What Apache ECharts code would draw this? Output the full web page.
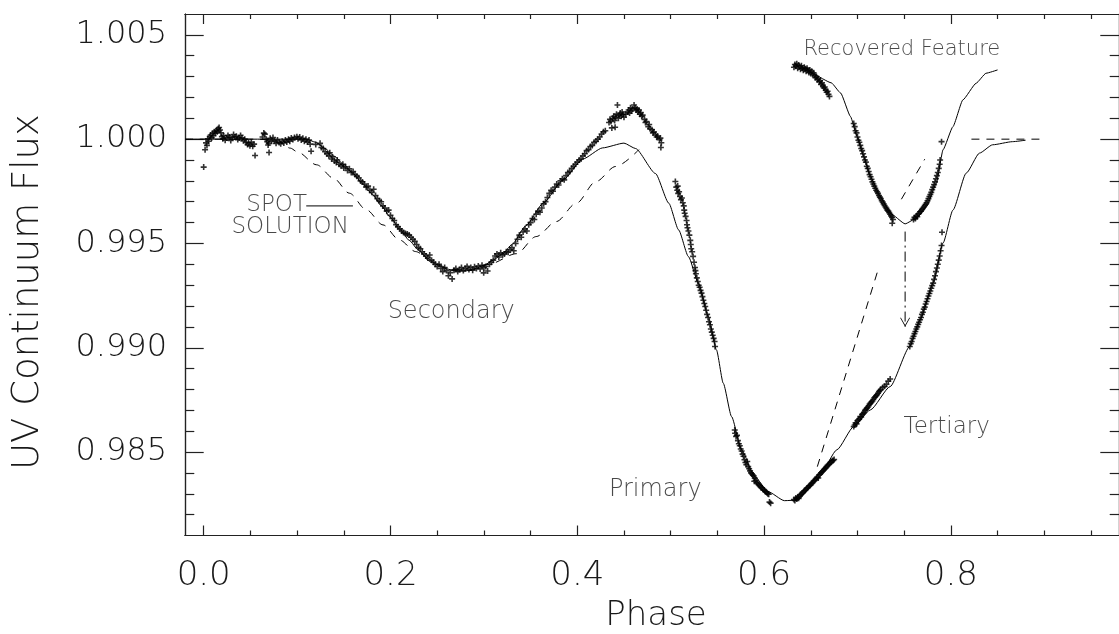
<!DOCTYPE html>
<html>
<head>
<meta charset="utf-8">
<script src="https://cdn.jsdelivr.net/npm/echarts@6/dist/echarts.min.js"></script>
<style>
html,body{margin:0;padding:0;background:#fff;}
#chart{width:1119px;height:634px;}
</style>
</head>
<body>
<div id="chart"></div>
<script>
// ---- axis ranges and ticks ----
const phaseRange = [-0.02, 0.98];
const fluxRange = [0.981, 1.006];
const phaseMajorTicks = [0.0, 0.2, 0.4, 0.6, 0.8];
const phaseMinorTicks = [0.05, 0.10, 0.15, 0.25, 0.30, 0.35, 0.45, 0.50, 0.55, 0.65, 0.70, 0.75, 0.85, 0.90, 0.95];
const fluxMajorTicks = [0.985, 0.990, 0.995, 1.000, 1.005];
const fluxMinorTicks = [0.982, 0.983, 0.984, 0.986, 0.987, 0.988, 0.989, 0.991, 0.992, 0.993, 0.994,
  0.996, 0.997, 0.998, 0.999, 1.001, 1.002, 1.003, 1.004];

// ---- observed UV continuum flux [phase, flux] ----
const obsEarly = [
  [0.0000,0.99866],[0.0015,0.99949],[0.0025,0.99982],[0.0035,0.99970],[0.0045,1.00002],[0.0055,0.99990],
  [0.0065,1.00012],[0.0075,1.00020],[0.0085,1.00006],[0.0095,1.00028],[0.0105,1.00016],[0.0115,1.00036],
  [0.0125,1.00028],[0.0135,1.00042],[0.0145,1.00036],[0.0155,1.00050],[0.0165,1.00056],[0.0175,1.00044],
  [0.0185,1.00030],[0.0195,1.00012],[0.0205,1.00002],[0.0215,1.00016],[0.0230,0.99995],[0.0245,1.00006],
  [0.0260,1.00018],[0.0275,1.00010],[0.0290,0.99994],[0.0305,1.00008],[0.0320,1.00022],[0.0335,1.00010],
  [0.0350,1.00014],[0.0365,0.99998],[0.0380,1.00006],[0.0395,1.00018],[0.0410,1.00006],[0.0425,0.99992],
  [0.0440,1.00000],[0.0455,0.99984],[0.0470,0.99974],[0.0480,0.99982],[0.0495,0.99968],[0.0510,0.99986],
  [0.0525,0.99966],[0.0540,0.99976],[0.0550,0.99922],
  [0.0630,1.00010],[0.0644,1.00029],[0.0655,1.00024],[0.0670,1.00000],[0.0680,0.99988],[0.0690,0.99972],
  [0.0697,0.99981],[0.0700,0.99936],[0.0712,1.00004],[0.0728,0.99990],[0.0742,1.00008],[0.0758,0.99992],
  [0.0775,0.99980],[0.0790,0.99996],[0.0808,0.99984],[0.0825,0.99978],[0.0840,0.99990],[0.0858,0.99982],
  [0.0875,0.99996],[0.0890,0.99986],[0.0908,1.00000],[0.0922,0.99990],[0.0938,1.00006],[0.0955,0.99998],
  [0.0972,1.00008],[0.0998,1.00012],[0.1010,1.00002],[0.1028,1.00010],[0.1045,0.99996],[0.1062,1.00004],
  [0.1078,0.99990],[0.1095,1.00000],[0.1110,0.99986],[0.1128,0.99996],[0.1140,0.99976],[0.1150,0.99942]
];
const obsSecondary = [
  [0.120,0.99975],[0.1246,0.99980],[0.126,0.99960],[0.128,0.99955],[0.130,0.99940],[0.132,0.99930],
  [0.134,0.99920],[0.135,0.99935],[0.137,0.99905],[0.138,0.99915],[0.140,0.99895],[0.142,0.99888],
  [0.143,0.99900],[0.145,0.99880],[0.147,0.99872],[0.149,0.99880],[0.150,0.99862],[0.152,0.99868],
  [0.154,0.99850],[0.156,0.99858],[0.158,0.99840],[0.160,0.99845],[0.162,0.99830],[0.164,0.99822],
  [0.166,0.99815],[0.168,0.99800],[0.170,0.99795],[0.172,0.99785],[0.174,0.99770],[0.176,0.99775],
  [0.178,0.99755],[0.180,0.99745],[0.182,0.99760],[0.184,0.99730],[0.186,0.99715],[0.188,0.99705],
  [0.190,0.99700],[0.192,0.99680],[0.194,0.99670],[0.196,0.99655],[0.198,0.99660],[0.200,0.99635],
  [0.202,0.99620],[0.204,0.99610],[0.206,0.99590],[0.208,0.99580],[0.210,0.99570],[0.212,0.99560],
  [0.214,0.99552],[0.216,0.99548],[0.218,0.99545],[0.220,0.99540],[0.222,0.99530],[0.224,0.99520],
  [0.226,0.99510],[0.228,0.99495],[0.230,0.99480],[0.232,0.99475],[0.234,0.99460],[0.236,0.99450],
  [0.238,0.99440],[0.240,0.99430],[0.242,0.99445],[0.244,0.99420],[0.246,0.99410],[0.248,0.99400],
  [0.250,0.99390],[0.252,0.99400],[0.254,0.99380],[0.256,0.99365],[0.258,0.99385],[0.260,0.99370],
  [0.262,0.99345],[0.264,0.99360],[0.266,0.99330],[0.268,0.99372],[0.270,0.99380],[0.272,0.99365],
  [0.274,0.99375],[0.276,0.99385],[0.278,0.99370],[0.280,0.99380],[0.282,0.99390],[0.284,0.99375],
  [0.286,0.99385],[0.288,0.99372],[0.290,0.99388],[0.292,0.99380],[0.294,0.99392],[0.296,0.99378],
  [0.298,0.99395],[0.2998,0.99359],[0.300,0.99385],[0.302,0.99390],[0.304,0.99368],[0.306,0.99400],
  [0.308,0.99410],[0.310,0.99420],[0.312,0.99440],[0.314,0.99450],[0.316,0.99435],[0.318,0.99455],
  [0.320,0.99445],[0.322,0.99450],[0.324,0.99460],[0.326,0.99458],[0.328,0.99470],[0.330,0.99480],
  [0.332,0.99465],[0.334,0.99500],[0.336,0.99520],[0.338,0.99540],[0.340,0.99530],[0.342,0.99555],
  [0.344,0.99570],[0.346,0.99560],[0.348,0.99590],[0.350,0.99600],[0.352,0.99620],[0.354,0.99615],
  [0.356,0.99640],[0.358,0.99655],[0.360,0.99650],[0.362,0.99670],[0.364,0.99690],[0.366,0.99700],
  [0.368,0.99720],[0.370,0.99740],[0.372,0.99755],[0.374,0.99750],[0.376,0.99770],[0.378,0.99785],
  [0.380,0.99780],[0.382,0.99800],[0.384,0.99810],[0.386,0.99805],[0.388,0.99825],[0.390,0.99840],
  [0.392,0.99845],[0.394,0.99860],[0.396,0.99870],[0.398,0.99880],[0.400,0.99890],[0.402,0.99900],
  [0.404,0.99905],[0.406,0.99920],[0.408,0.99930],[0.410,0.99945],[0.412,0.99950],[0.414,0.99965],
  [0.416,0.99970],[0.418,0.99985],[0.420,0.99990],[0.422,1.00000],[0.424,1.00010],[0.426,1.00025],
  [0.428,1.00035],[0.430,1.00040],
  [0.434,1.00080],[0.435,1.00095],[0.436,1.00085],[0.437,1.00054],[0.438,1.00100],[0.439,1.00110],
  [0.440,1.00090],[0.441,1.00105],[0.4405,1.00057],[0.442,1.00120],[0.443,1.00164],[0.444,1.00100],
  [0.445,1.00115],[0.446,1.00125],[0.447,1.00110],[0.448,1.00130],[0.449,1.00118],[0.450,1.00105],
  [0.452,1.00120],[0.454,1.00130],[0.455,1.00140],[0.456,1.00125],[0.457,1.00150],[0.458,1.00135],
  [0.459,1.00145],[0.4608,1.00164],[0.462,1.00150],[0.463,1.00140],[0.464,1.00145],[0.465,1.00130],
  [0.466,1.00140],[0.467,1.00120],[0.468,1.00128],[0.469,1.00110],[0.470,1.00115],[0.472,1.00095],
  [0.473,1.00080],[0.474,1.00085],[0.476,1.00060],[0.477,1.00070],[0.478,1.00050],[0.480,1.00045],
  [0.481,1.00030],[0.482,1.00035],[0.484,1.00020],[0.485,1.00010],[0.486,1.00015],[0.488,0.99998],
  [0.489,1.00005],[0.490,0.99983],[0.4895,0.99960]
];
const obsIngress = [
  [0.505,0.99797],[0.506,0.99770],[0.507,0.99755],[0.5075,0.99775],[0.508,0.99740],[0.509,0.99748],
  [0.510,0.99725],[0.511,0.99710],[0.512,0.99718],[0.513,0.99695],[0.514,0.99680],[0.5145,0.99660],
  [0.515,0.99645],[0.516,0.99630],[0.517,0.99610],[0.5175,0.99590],[0.518,0.99575],[0.519,0.99560],
  [0.520,0.99540],[0.521,0.99515],[0.5215,0.99495],[0.522,0.99475],[0.523,0.99460],[0.524,0.99438],
  [0.525,0.99410],[0.526,0.99385],[0.5265,0.99370],[0.527,0.99355],[0.528,0.99335],[0.529,0.99318],
  [0.530,0.99300],[0.531,0.99290],[0.532,0.99275],[0.533,0.99262],[0.534,0.99245],[0.535,0.99228],
  [0.536,0.99212],[0.537,0.99198],[0.538,0.99180],[0.539,0.99160],[0.540,0.99145],[0.541,0.99125],
  [0.542,0.99110],[0.543,0.99090],[0.544,0.99075],[0.545,0.99060],[0.546,0.99045],[0.547,0.99030],
  [0.5475,0.99006]
];
const obsPrimaryMin = [
  [0.5686,0.98606],[0.569,0.98590],[0.570,0.98575],[0.571,0.98580],[0.572,0.98555],[0.573,0.98540],
  [0.574,0.98530],[0.575,0.98515],[0.576,0.98505],[0.577,0.98490],[0.578,0.98480],[0.579,0.98463],
  [0.580,0.98450],[0.581,0.98440],[0.582,0.98455],[0.583,0.98430],[0.584,0.98420],[0.585,0.98410],
  [0.586,0.98400],[0.587,0.98395],[0.588,0.98390],[0.589,0.98385],[0.5895,0.98360],[0.590,0.98375],
  [0.591,0.98365],[0.592,0.98355],[0.593,0.98350],[0.594,0.98345],[0.595,0.98340],[0.596,0.98335],
  [0.597,0.98330],[0.598,0.98328],[0.599,0.98320],[0.600,0.98318],[0.601,0.98312],[0.602,0.98310],
  [0.603,0.98305],[0.604,0.98300],[0.605,0.98298],[0.6058,0.98260],[0.607,0.98255]
];
const obsEgress = [
  [0.632,0.98272],[0.633,0.98268],[0.634,0.98280],[0.635,0.98275],[0.636,0.98284],[0.637,0.98278],
  [0.638,0.98290],[0.639,0.98296],[0.640,0.98298],[0.641,0.98304],[0.642,0.98308],[0.643,0.98314],
  [0.644,0.98316],[0.645,0.98322],[0.646,0.98328],[0.647,0.98330],[0.648,0.98336],[0.649,0.98340],
  [0.650,0.98344],[0.651,0.98350],[0.652,0.98354],[0.653,0.98360],[0.654,0.98364],[0.655,0.98368],
  [0.656,0.98374],[0.657,0.98380],[0.658,0.98376],[0.659,0.98390],[0.660,0.98394],[0.661,0.98400],
  [0.662,0.98405],[0.663,0.98410],[0.664,0.98416],[0.665,0.98420],[0.666,0.98424],[0.667,0.98430],
  [0.668,0.98436],[0.669,0.98440],[0.670,0.98444],[0.671,0.98450],[0.672,0.98452],[0.673,0.98458],
  [0.674,0.98460],[0.675,0.98464]
];
const obsTertiary = [
  [0.696,0.98622],[0.697,0.98630],[0.698,0.98640],[0.699,0.98635],[0.700,0.98650],[0.701,0.98655],
  [0.702,0.98660],[0.703,0.98670],[0.704,0.98668],[0.705,0.98680],[0.706,0.98685],[0.707,0.98690],
  [0.708,0.98700],[0.709,0.98705],[0.710,0.98710],[0.711,0.98715],[0.712,0.98722],[0.713,0.98730],
  [0.714,0.98735],[0.715,0.98740],[0.716,0.98745],[0.717,0.98752],[0.718,0.98760],[0.719,0.98765],
  [0.720,0.98770],[0.721,0.98775],[0.722,0.98782],[0.723,0.98790],[0.724,0.98795],[0.725,0.98800],
  [0.727,0.98810],[0.729,0.98815],[0.731,0.98825],[0.733,0.98840],[0.735,0.98850]
];
const obsTertiaryLate = [
  [0.756,0.99006],[0.757,0.99020],[0.758,0.99030],[0.759,0.99045],[0.760,0.99055],[0.761,0.99068],
  [0.762,0.99078],[0.763,0.99090],[0.764,0.99100],[0.765,0.99112],[0.766,0.99122],[0.767,0.99134],
  [0.768,0.99145],[0.769,0.99160],[0.770,0.99170],[0.771,0.99185],[0.772,0.99195],[0.773,0.99210],
  [0.774,0.99222],[0.775,0.99235],[0.776,0.99248],[0.777,0.99260],[0.778,0.99272],[0.779,0.99285],
  [0.780,0.99298],[0.781,0.99310],[0.782,0.99328],[0.783,0.99345],[0.784,0.99365],[0.785,0.99382],
  [0.786,0.99400],[0.787,0.99420],[0.788,0.99440],[0.789,0.99465],[0.790,0.99490],[0.7905,0.99554]
];
// recovered feature (residual, shifted upward)
const obsRecoveredStart = [
  [0.632,1.00345],[0.633,1.00358],[0.634,1.00350],[0.635,1.00362],[0.636,1.00340],[0.637,1.00355],
  [0.638,1.00348],[0.639,1.00335],[0.640,1.00352],[0.641,1.00340],[0.642,1.00330],[0.643,1.00345],
  [0.644,1.00338],[0.645,1.00325],[0.646,1.00340],[0.647,1.00330],[0.648,1.00320],[0.649,1.00332],
  [0.650,1.00315],[0.651,1.00325],[0.652,1.00310],[0.653,1.00318],[0.654,1.00305],[0.655,1.00295],
  [0.656,1.00300],[0.657,1.00285],[0.658,1.00290],[0.659,1.00275],[0.660,1.00280],[0.661,1.00262],
  [0.662,1.00270],[0.663,1.00255],[0.664,1.00245],[0.665,1.00250],[0.666,1.00235],[0.667,1.00225],
  [0.668,1.00230],[0.669,1.00215],[0.670,1.00205]
];
const obsRecoveredDip = [
  [0.696,1.00075],[0.697,1.00060],[0.698,1.00040],[0.699,1.00030],[0.700,1.00010],[0.701,0.99995],
  [0.702,0.99985],[0.703,0.99970],[0.704,0.99955],[0.705,0.99945],[0.706,0.99930],[0.707,0.99915],
  [0.708,0.99900],[0.709,0.99890],[0.710,0.99870],[0.711,0.99860],[0.712,0.99845],[0.713,0.99830],
  [0.714,0.99820],[0.715,0.99808],[0.716,0.99795],[0.717,0.99785],[0.718,0.99775],[0.719,0.99765],
  [0.720,0.99755],[0.721,0.99748],[0.722,0.99740],[0.723,0.99730],[0.724,0.99722],[0.725,0.99715],
  [0.726,0.99705],[0.727,0.99698],[0.728,0.99690],[0.729,0.99682],[0.730,0.99675],[0.731,0.99668],
  [0.732,0.99660],[0.733,0.99655],[0.734,0.99648],[0.735,0.99640],[0.736,0.99632],[0.737,0.99625],
  [0.738,0.99615],[0.7372,0.99597]
];
const obsRecoveredRise = [
  [0.760,0.99615],[0.761,0.99625],[0.762,0.99620],[0.763,0.99632],[0.764,0.99628],[0.765,0.99640],
  [0.766,0.99645],[0.767,0.99652],[0.768,0.99655],[0.769,0.99662],[0.770,0.99668],[0.771,0.99675],
  [0.772,0.99682],[0.773,0.99688],[0.774,0.99695],[0.775,0.99705],[0.776,0.99715],[0.777,0.99725],
  [0.778,0.99735],[0.779,0.99745],[0.780,0.99758],[0.781,0.99770],[0.782,0.99782],[0.783,0.99795],
  [0.784,0.99810],[0.785,0.99825],[0.786,0.99840],[0.787,0.99860],[0.788,0.99880],[0.7885,0.99900],
  [0.790,0.99988]
];

// ---- model light curves [phase, flux] ----
const spotModel = [
  [-0.02,1.00000],[0.110,1.00000],[0.120,0.99985],[0.130,0.99955],[0.140,0.99918],[0.150,0.99878],
  [0.160,0.99835],[0.170,0.99788],[0.180,0.99738],[0.190,0.99682],[0.200,0.99625],[0.210,0.99568],
  [0.220,0.99515],[0.230,0.99468],[0.240,0.99428],[0.250,0.99398],[0.260,0.99378],[0.270,0.99368],
  [0.280,0.99368],[0.290,0.99378],[0.300,0.99395],[0.310,0.99420],[0.320,0.99450],[0.330,0.99495],
  [0.345,0.99585],[0.3635,0.99693],[0.385,0.99805],[0.406,0.99905],[0.427,0.99958],[0.450,0.99981],
  [0.4625,0.99955],[0.4838,0.99835],[0.498,0.99693],[0.5085,0.99565],[0.519,0.99437],[0.5297,0.99310],
  [0.5403,0.99150],[0.549,0.98990],[0.5563,0.98830],[0.5652,0.98670],[0.5758,0.98511],[0.590,0.98383],
  [0.604,0.98311],[0.6218,0.98267],[0.636,0.98270],[0.6607,0.98399],[0.678,0.98511],[0.696,0.98622],
  [0.7138,0.98702],[0.735,0.98814],[0.756,0.99006],[0.767,0.99134],[0.781,0.99310],[0.7916,0.99502],
  [0.8022,0.99660],[0.8164,0.99837],[0.8306,0.99933],[0.8447,0.99973],[0.866,0.99988],[0.880,0.99995]
];
const unspottedModel = [
  [-0.02,1.00000],[0.060,1.00000],[0.080,0.99985],[0.0928,0.99957],[0.100,0.99940],[0.121,0.99877],
  [0.139,0.99813],[0.156,0.99741],[0.174,0.99662],[0.192,0.99589],[0.2095,0.99517],[0.227,0.99461],
  [0.245,0.99410],[0.265,0.99375],[0.285,0.99370],[0.305,0.99400],[0.335,0.99451],[0.356,0.99533],
  [0.3775,0.99605],[0.399,0.99693],[0.420,0.99797],[0.441,0.99869],[0.466,0.99950]
];
const unspottedEgress = [[0.657,0.98430],[0.7226,0.99382]];
const unspottedOut = [[0.822,1.00000],[0.898,1.00000]];
const recoveredModel = [
  [0.655,1.00310],[0.672,1.00270],[0.682,1.00221],[0.6926,1.00108],[0.6996,1.00012],[0.7067,0.99917],
  [0.7138,0.99821],[0.7244,0.99725],[0.735,0.99645],[0.751,0.99594],[0.7633,0.99621],[0.774,0.99677],
  [0.7845,0.99789],[0.7916,0.99949],[0.8022,1.00060],[0.8128,1.00188],[0.827,1.00268],[0.8376,1.00316],
  [0.850,1.00332]
];
const recoveredUnspotted = [[0.747,0.99712],[0.772,0.99904]];
const shiftArrow = [[0.751,0.99557],[0.751,0.99101]];
const spotKeyLine = [[0.1098,0.99680],[0.1598,0.99680]];

// ---- annotation anchors [phase, flux] ----
const labelSpot = [0.0781, 0.99684];
const labelSolution = [0.0926, 0.99580];
const labelSecondary = [0.265, 0.99172];
const labelPrimary = [0.4835, 0.98318];
const labelTertiary = [0.7955, 0.98618];
const labelRecovered = [0.7475, 1.00428];

const FONT = 'DejaVu Sans';
const INK = '#222';
const TEXT = '#1a1a1a';
const PLUS = 'path://M2.2,0H3.8V2.2H6V3.8H3.8V6H2.2V3.8H0V2.2H2.2Z';

function xAxis(position, ticks, len, withLabels) {
  return {
    type: 'value', min: phaseRange[0], max: phaseRange[1], position: position,
    axisLine: { show: true, onZero: false, lineStyle: { color: INK, width: 1.2 } },
    axisTick: { show: true, inside: true, length: len, customValues: ticks, lineStyle: { color: INK, width: 1.2 } },
    axisLabel: withLabels ? {
      show: true, customValues: ticks, margin: 24, color: TEXT,
      fontFamily: FONT, fontWeight: 200, fontSize: 34,
      formatter: v => v.toFixed(1)
    } : { show: false },
    splitLine: { show: false }
  };
}
function yAxis(position, ticks, len, withLabels) {
  return {
    type: 'value', min: fluxRange[0], max: fluxRange[1], position: position,
    axisLine: { show: true, onZero: false, lineStyle: { color: INK, width: 1.2 } },
    axisTick: { show: true, inside: true, length: len, customValues: ticks, lineStyle: { color: INK, width: 1.2 } },
    axisLabel: withLabels ? {
      show: true, customValues: ticks, margin: 18, color: TEXT,
      fontFamily: FONT, fontWeight: 200, fontSize: 32,
      formatter: v => v.toFixed(3)
    } : { show: false },
    splitLine: { show: false }
  };
}
function modelLine(data, dash, smooth) {
  return {
    type: 'line', data: data, showSymbol: false, symbol: 'none', smooth: smooth || 0,
    smoothMonotone: 'x', silent: true, z: 2,
    lineStyle: { color: '#000', width: 1, type: dash || 'solid' }
  };
}
function textMark(pos, text, size) {
  return {
    type: 'scatter', symbolSize: 0, silent: true, z: 5,
    data: [{ value: pos }],
    label: {
      show: true, position: 'inside', formatter: text, color: TEXT,
      fontFamily: FONT, fontWeight: 200, fontSize: size
    }
  };
}

const observations = [].concat(obsEarly, obsSecondary, obsIngress, obsPrimaryMin, obsEgress,
  obsTertiary, obsTertiaryLate, obsRecoveredStart, obsRecoveredDip, obsRecoveredRise);

const chart = echarts.init(document.getElementById('chart'), null, { renderer: 'canvas' });
chart.setOption({
  animation: false,
  backgroundColor: '#fff',
  grid: { left: 185, top: 14, width: 942, height: 521.5, containLabel: false },
  xAxis: [
    xAxis('bottom', phaseMajorTicks, 10, true),
    xAxis('bottom', phaseMinorTicks, 5, false),
    xAxis('top', phaseMajorTicks, 10, false),
    xAxis('top', phaseMinorTicks, 5, false)
  ],
  yAxis: [
    yAxis('left', fluxMajorTicks, 18.7, true),
    yAxis('left', fluxMinorTicks, 9.3, false),
    yAxis('right', fluxMajorTicks, 18.7, false),
    yAxis('right', fluxMinorTicks, 9.3, false)
  ],
  graphic: [
    { type: 'text', x: 28, y: 292, rotation: Math.PI / 2, silent: true,
      style: { text: 'UV Continuum Flux', fill: TEXT, font: '200 37px "DejaVu Sans"', align: 'center', verticalAlign: 'middle' } },
    { type: 'text', x: 656, y: 616, silent: true,
      style: { text: 'Phase', fill: TEXT, font: '200 34px "DejaVu Sans"', align: 'center', verticalAlign: 'middle' } }
  ],
  series: [
    modelLine(spotModel, 'solid', 0.2),
    modelLine(unspottedModel, [8, 7], 0.3),
    modelLine(unspottedEgress, [8, 7]),
    modelLine(unspottedOut, [8, 7]),
    modelLine(recoveredModel, 'solid', 0.15),
    modelLine(recoveredUnspotted, [8, 7]),
    modelLine(spotKeyLine, 'solid'),
    {
      type: 'line', silent: true, z: 2,
      data: [
        { value: shiftArrow[0], symbol: 'none' },
        { value: shiftArrow[1], symbol: 'path://M0,0L5,9L10,0L9.2,0L5,7.4L0.8,0Z', symbolSize: [10, 9], symbolOffset: [0, -4.5] }
      ],
      showSymbol: true, showAllSymbol: true,
      itemStyle: { color: '#000' },
      lineStyle: { color: '#000', width: 1, type: [10, 4, 2, 4] }
    },
    {
      type: 'scatter', data: observations, symbol: PLUS, symbolSize: 6, silent: true, z: 3,
      itemStyle: { color: '#000' }
    },
    textMark(labelSpot, 'SPOT', 23),
    textMark(labelSolution, 'SOLUTION', 23),
    textMark(labelSecondary, 'Secondary', 24),
    textMark(labelPrimary, 'Primary', 24),
    textMark(labelTertiary, 'Tertiary', 23),
    textMark(labelRecovered, 'Recovered Feature', 21)
  ]
});
</script>
</body>
</html>
